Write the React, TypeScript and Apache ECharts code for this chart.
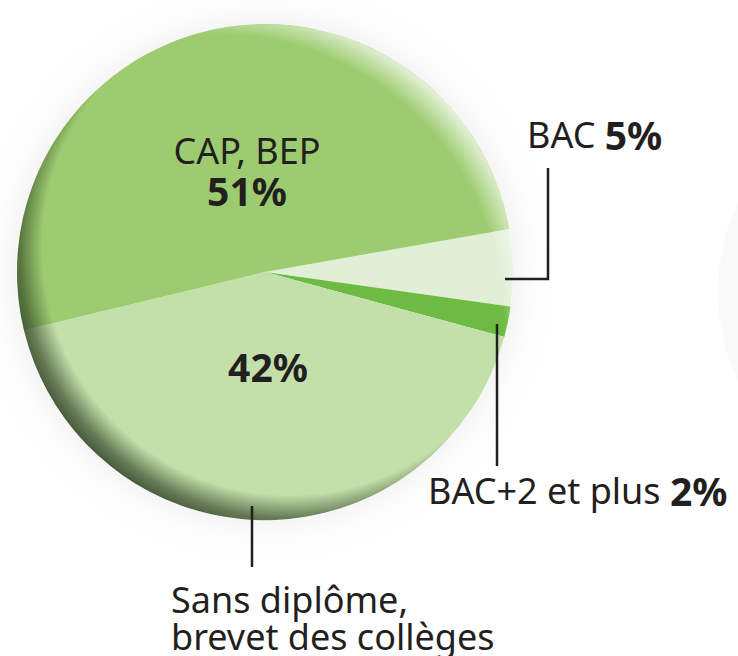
import React, { useEffect, useRef } from "react";
import * as echarts from "echarts";

// ---- data ----
const categories = ["BAC", "BAC+2 et plus", "Sans diplôme,\nbrevet des collèges", "CAP, BEP"];
const shares = [5, 2, 42, 51];
const sliceColors = ["#e1efd6", "#6ebb44", "#c4e0aa", "#9dcc70"];
// where each label part is drawn: outside (name + maybe %) and inside
const outerShowName = [true, true, true, false];
const outerShowPct = [true, true, false, false];
const innerShowName = [false, false, false, true];
const innerShowPct = [false, false, true, true];

// ---- layout (positions only) ----
const CENTER: [number, number] = [265, 272];
const RADIUS = 248;
const outerPos: any[] = [
  { x: 527, y: 134, align: "left", line: [[505, 279], [548, 279], [548, 168]] },
  { x: 428, y: 490, align: "left", line: [[497, 324], [497, 395], [497, 466]] },
  { x: 171, y: 618, align: "left", line: [[252, 506], [252, 536], [252, 567]] },
  null,
];
const innerPos: any[] = [null, null, { x: 268, y: 366, align: "center" }, { x: 247, y: 172, align: "center" }];

const INK = "#231f20";
const FONT = "'Noto Sans', 'Open Sans', sans-serif";

function rich() {
  return {
    n: { fontFamily: FONT, fontSize: 36, color: INK, lineHeight: 37 },
    b: { fontFamily: FONT, fontSize: 39, fontWeight: "bold", color: INK, lineHeight: 44 },
  };
}

function outerText(i: number) {
  if (!outerShowName[i]) return "";
  const lines = categories[i].split("\n");
  return lines
    .map((l, k) => {
      const last = k === lines.length - 1;
      if (last && outerShowPct[i]) return `{n|${l} }{b|${shares[i]}%}`;
      return `{n|${l}}`;
    })
    .join("\n");
}

function innerText(i: number) {
  const lines: string[] = [];
  if (innerShowName[i]) lines.push(`{n|${categories[i]}}`);
  if (innerShowPct[i]) lines.push(`{b|${shares[i]}%}`);
  return lines.join("\n");
}

export default function App() {
  const ref = useRef<HTMLDivElement>(null);
  useEffect(() => {
    if (!ref.current) return;
    const chart = echarts.init(ref.current, null, { renderer: "svg" });
    const baseData = categories.map((c, i) => ({ name: c, value: shares[i] }));
    const common = {
      type: "pie",
      center: CENTER,
      radius: RADIUS,
      startAngle: 10,
      clockwise: true,
      avoidLabelOverlap: false,
      minShowLabelAngle: 0,
      silent: true,
      emphasis: { disabled: true },
    };
    const option: any = {
      animation: false,
      backgroundColor: "#ffffff",
      graphic: [
        { type: "circle", z: 0, shape: { cx: 927, cy: 292, r: 209 }, style: { fill: "#f9f9f9" }, silent: true },
      ],
      series: [
        // soft halo
        {
          ...common,
          z: 1,
          data: [{ value: 1, name: "halo" }],
          label: { show: false },
          labelLine: { show: false },
          itemStyle: { color: "#ffffff", shadowBlur: 45, shadowColor: "rgba(0,0,0,0.08)" },
        },
        // slices
        {
          ...common,
          z: 2,
          data: baseData.map((d, i) => ({ ...d, itemStyle: { color: sliceColors[i] } })),
          label: { show: false },
          labelLine: { show: false },
        },
        // dark rim
        {
          ...common,
          z: 3,
          data: [{ value: 1, name: "shade" }],
          label: { show: false },
          labelLine: { show: false },
          itemStyle: {
            color: {
              type: "radial",
              x: 0.55,
              y: 0.45,
              r: 0.58,
              colorStops: [
                { offset: 0, color: "rgba(40,58,32,0)" },
                { offset: 0.86, color: "rgba(40,58,32,0)" },
                { offset: 0.94, color: "rgba(40,58,32,0.6)" },
                { offset: 1, color: "rgba(40,58,32,0.88)" },
              ],
            },
          },
        },
        // light rim
        {
          ...common,
          z: 3,
          data: [{ value: 1, name: "light" }],
          label: { show: false },
          labelLine: { show: false },
          itemStyle: {
            color: {
              type: "radial",
              x: 0.4,
              y: 0.6,
              r: 0.645,
              colorStops: [
                { offset: 0, color: "rgba(255,255,255,0)" },
                { offset: 0.9, color: "rgba(255,255,255,0)" },
                { offset: 1, color: "rgba(255,255,255,0.78)" },
              ],
            },
          },
        },
        // outer labels
        {
          ...common,
          z: 5,
          data: baseData.map((d, i) => ({
            ...d,
            label: { show: outerShowName[i] || outerShowPct[i], formatter: outerText(i) },
            labelLine: { show: !!outerPos[i] },
          })),
          itemStyle: { color: "rgba(0,0,0,0)" },
          label: { position: "outside", rich: rich() },
          labelLine: { show: true, lineStyle: { color: INK, width: 2.5, opacity: 1 }, smooth: false },
          labelLayout: (p: any) => {
            const o = outerPos[p.dataIndex];
            if (!o) return {};
            return { x: o.x, y: o.y, align: o.align, verticalAlign: "middle", labelLinePoints: o.line };
          },
        },
        // inner labels
        {
          ...common,
          z: 5,
          data: baseData.map((d, i) => ({
            ...d,
            label: { show: innerShowName[i] || innerShowPct[i], formatter: innerText(i) },
          })),
          itemStyle: { color: "rgba(0,0,0,0)" },
          label: { position: "inside", rich: rich(), align: "center" },
          labelLine: { show: false },
          labelLayout: (p: any) => {
            const o = innerPos[p.dataIndex];
            if (!o) return {};
            return { x: o.x, y: o.y, align: o.align, verticalAlign: "middle" };
          },
        },
      ],
    };
    chart.setOption(option);
    return () => chart.dispose();
  }, []);
  return (
    <div
      ref={ref}
      style={{ position: "fixed", left: 0, top: 0, width: 738, height: 656, background: "#fff" }}
    />
  );
}
